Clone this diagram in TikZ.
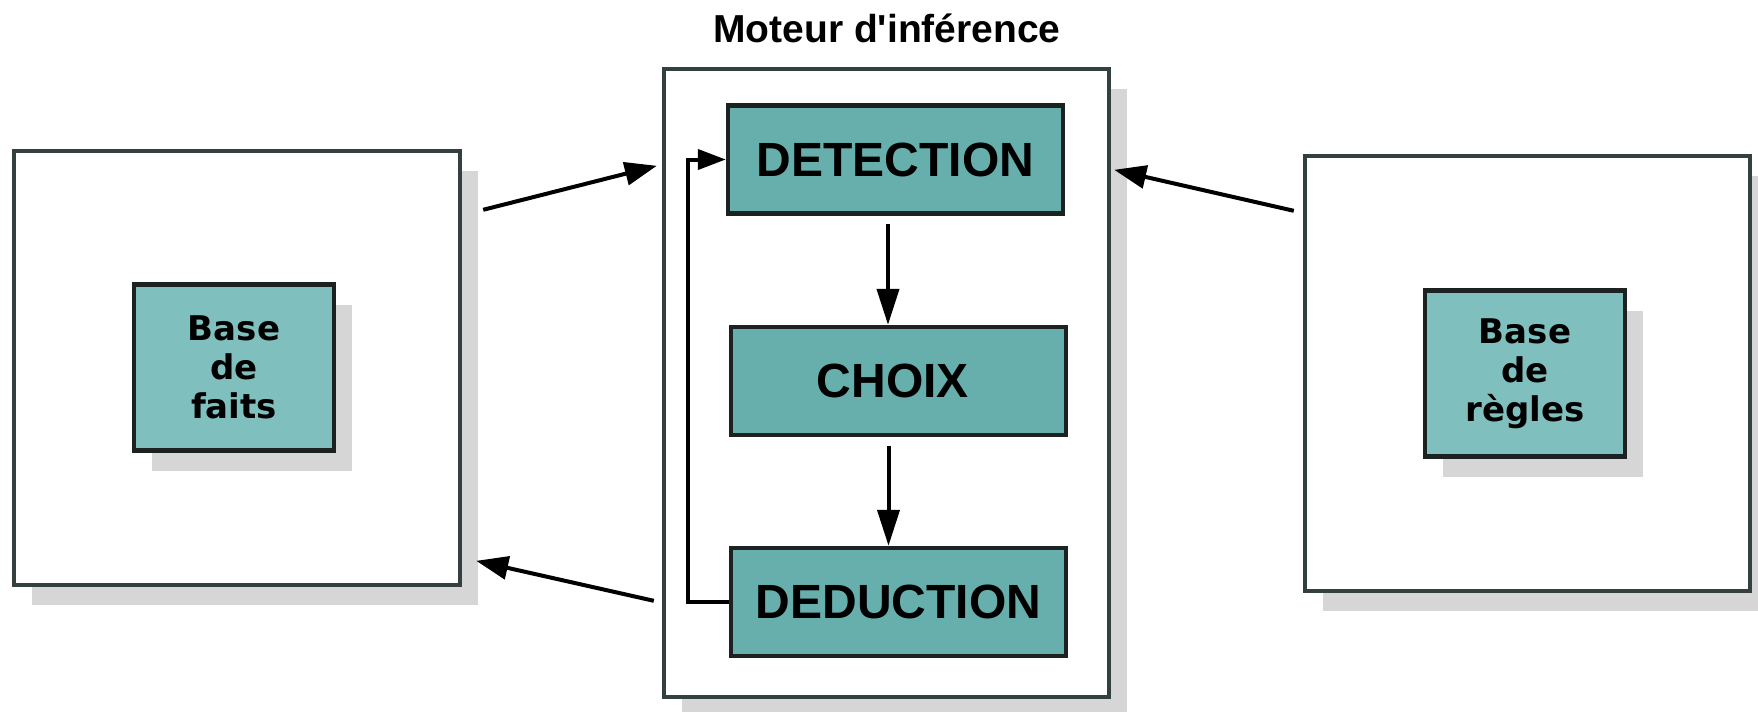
\documentclass[tikz,border=0pt]{standalone}
\usepackage{fontspec}
\setmainfont{Liberation Sans}
\newfontfamily\basefont{DejaVu Sans}
\usetikzlibrary{arrows.meta,shadows,calc}
\definecolor{tealbase}{HTML}{7FBFBD}
\definecolor{tealstep}{HTML}{67AFAD}
\definecolor{framegray}{HTML}{344040}
\definecolor{edgedark}{HTML}{1C2222}
\definecolor{shadowgray}{HTML}{D6D6D6}

\begin{document}
\begin{tikzpicture}[x=0.5pt,y=-0.5pt,
  boxshadow/.style={drop shadow={shadow xshift=9pt,shadow yshift=-10pt,fill=shadowgray,opacity=1}},
  outerbox/.style={draw=framegray,line width=2.2pt,fill=white,inner sep=0pt,boxshadow},
  basebox/.style={draw=edgedark,line width=2.2pt,fill=tealbase,inner sep=0pt,align=center,
    minimum width=100pt,minimum height=83pt,boxshadow,
    font=\basefont\bfseries\fontsize{17pt}{19.5pt}\selectfont},
  stepbox/.style={draw=edgedark,line width=2.2pt,fill=tealstep,inner sep=0pt,
    minimum width=167.5pt,minimum height=54pt,
    font=\bfseries\fontsize{24pt}{28pt}\selectfont},
  link/.style={line width=2pt,-{Triangle[length=16pt,width=11.5pt]}},
  flow/.style={line width=2pt,-{Triangle[length=18pt,width=11pt]}},
  loopback/.style={line width=2pt,-{Triangle[length=14pt,width=10pt]}}
]
\useasboundingbox[fill=white] (0,0) rectangle (1758,712);

% fact base
\node[outerbox,minimum width=223pt,minimum height=217pt] (outerL) at (237,368) {};
\node[basebox] (faits) at (234,367.5) {Base\\de\\faits};

% inference engine
\node[font=\bfseries\fontsize{19.5pt}{23pt}\selectfont,anchor=base] (title) at (887,42)
  {Moteur d\textquotesingle inférence};
\node[outerbox,minimum width=222.5pt,minimum height=314pt] (moteur) at (886.5,383) {};
\node[stepbox] (detection) at (895.5,159.5) {DETECTION};
\node[stepbox] (choix) at (898.5,381) {CHOIX\hspace*{5.5pt}};
\node[stepbox] (deduction) at (898.5,602) {DEDUCTION};

% rule base
\node[outerbox,minimum width=222.5pt,minimum height=217.5pt] (outerR) at (1527.5,373.5) {};
\node[basebox] (regles) at (1525,373.5) {Base\\de\\règles};

% engine cycle
\draw[flow] ([xshift=-3.75pt,yshift=-4pt]detection.south) -- ([xshift=-5.25pt]choix.north);
\draw[flow] ([xshift=-5pt,yshift=-4.5pt]choix.south) -- ([xshift=-5pt]deduction.north);
\coordinate (loopx) at (688,0);
\draw[loopback] (deduction.west) -- (deduction.west -| loopx) |- (detection.west);

% exchanges between the bases and the engine
\draw[link] ($(outerL.north east)+(21,61)$) -- ($(moteur.north west)+(-5,99)$);
\draw[link] ($(moteur.north west)+(-8,534)$) -- ($(outerL.north east)+(14,412)$);
\draw[link] ($(outerR.north west)+(-9,57)$) -- ($(moteur.north east)+(3,103)$);
\end{tikzpicture}
\end{document}
